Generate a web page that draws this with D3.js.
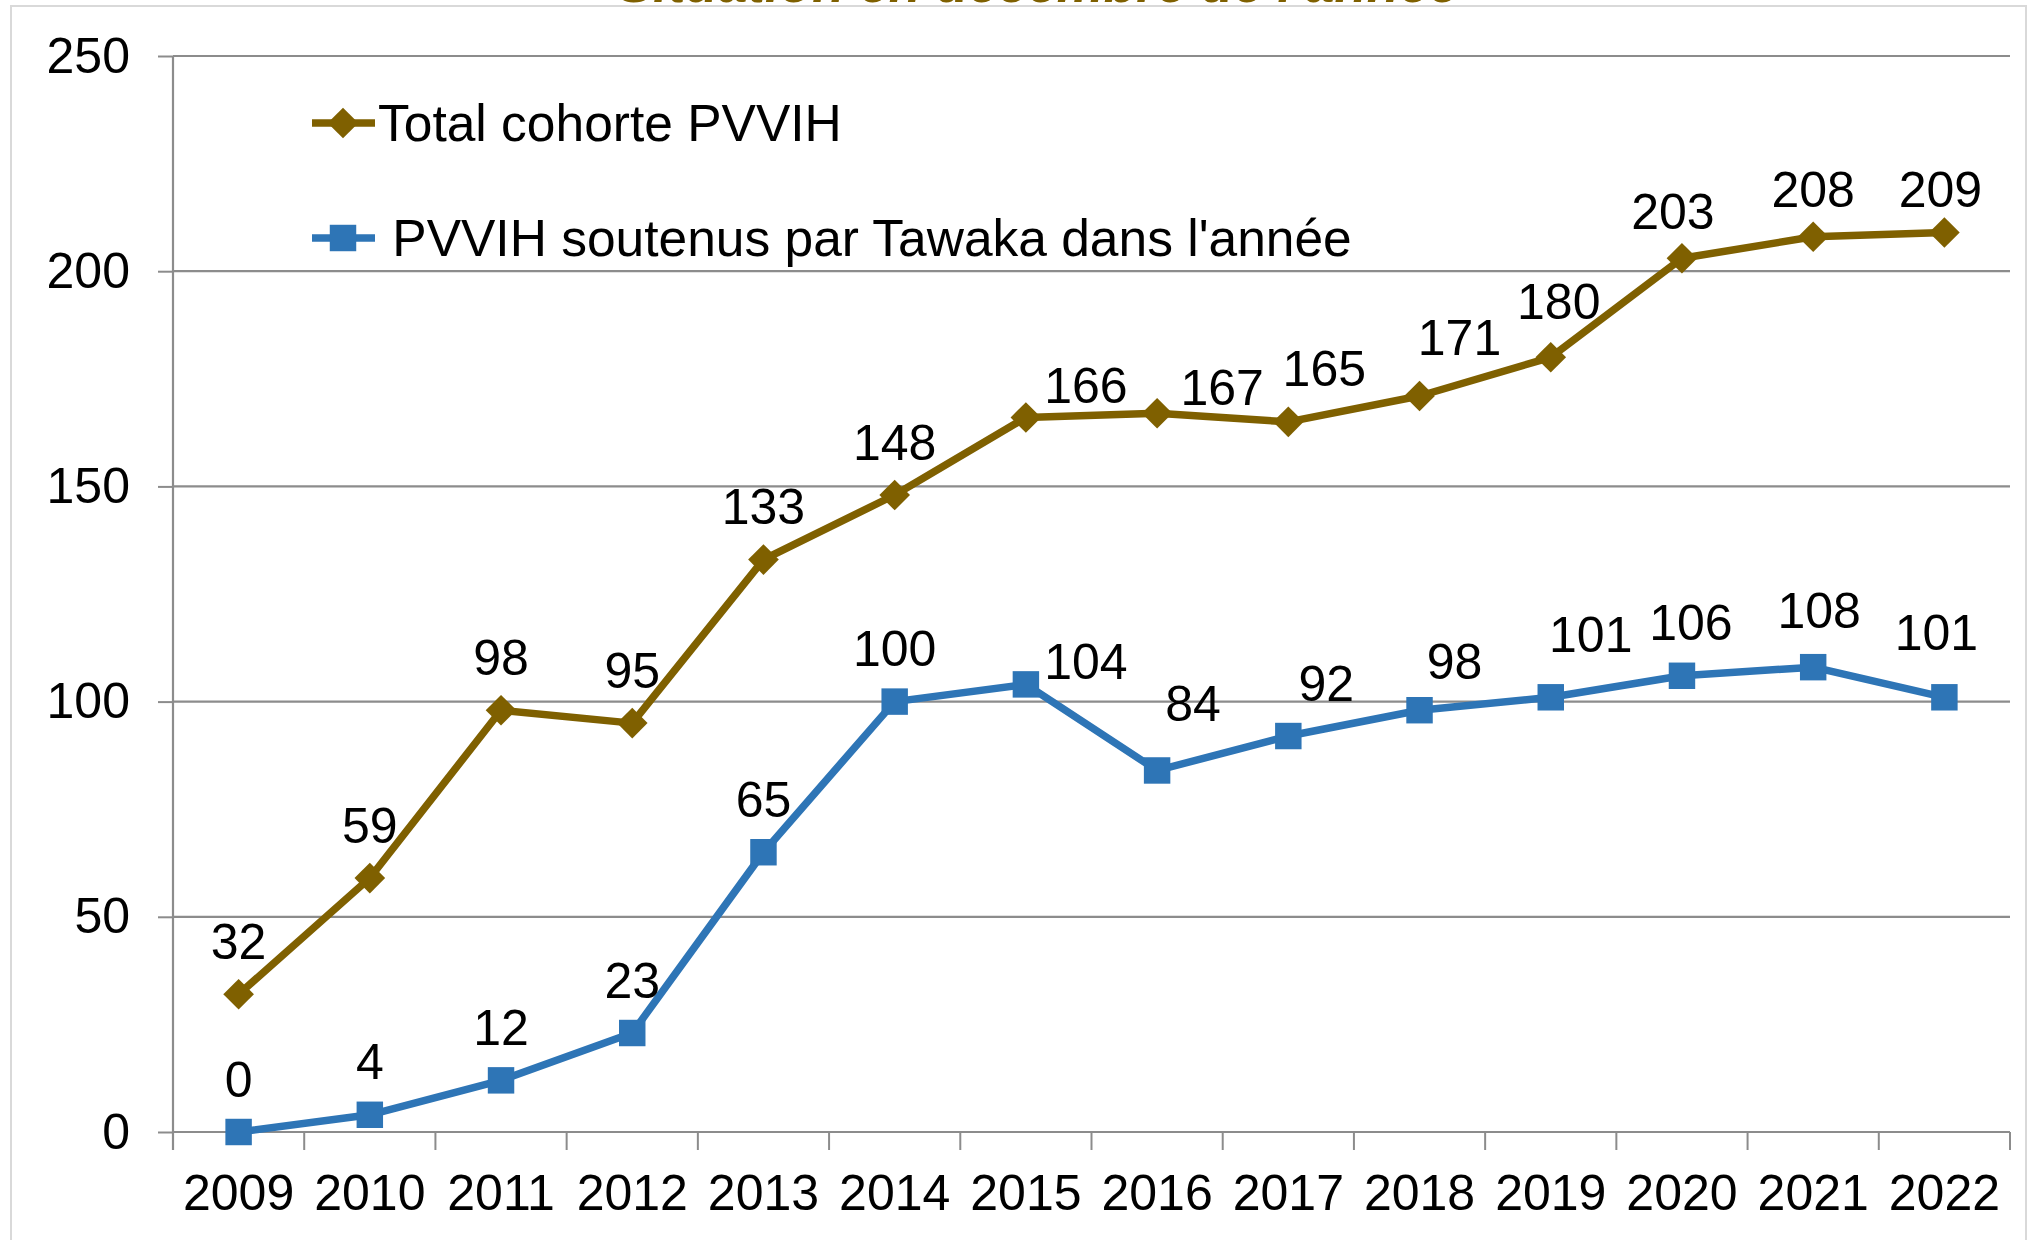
<!DOCTYPE html>
<html>
<head>
<meta charset="utf-8">
<script src="https://d3js.org/d3.v7.min.js"></script>
<style>
  body { margin: 0; background: #fff; }
  svg text { font-family: "Liberation Sans", Arial, sans-serif; }
</style>
</head>
<body>
<div class="chart"></div>
<script>
// données
var years = ["2009","2010","2011","2012","2013","2014","2015","2016","2017","2018","2019","2020","2021","2022"];
var totalCohorte = [32, 59, 98, 95, 133, 148, 166, 167, 165, 171, 180, 203, 208, 209];
var soutenusTawaka = [0, 4, 12, 23, 65, 100, 104, 84, 92, 98, 101, 106, 108, 101];
var yTicks = [0, 50, 100, 150, 200, 250];
var seriesNames = ["Total cohorte PVVIH", " PVVIH soutenus par Tawaka dans l'année"];
var titre = "Situation en décembre de l'année";

// petits décalages des étiquettes (déplacées à la main dans l'original)
var nudgeTotal = [[0,0],[0,0],[0,0],[0,0],[0,0],[0,0],[60,21],[65,27],[36,0],[40,-6],[8,-3],[-9,6],[0,6],[-4,10]];
var nudgeSoutenus = [[0,0],[0,0],[0,0],[0,0],[0,0],[0,0],[60,30],[36,-14],[38,0],[35,4],[40,-10],[9,0],[6,-4],[-8,-12]];

var w = 2036, h = 1240;
var mLeft = 173, mRight = 2010, mTop = 56, mBottom = 1132;
var brown = "#7f6000", blue = "#2e75b6", grid = "#8c8c8c";

var svg = d3.select("div.chart").append("svg")
    .attr("width", w).attr("height", h);

svg.append("rect").attr("width", w).attr("height", h).attr("fill", "#fff");
// cadre
svg.append("rect")
    .attr("x", 11).attr("y", 6).attr("width", 2015).attr("height", 1260)
    .attr("fill", "none").attr("stroke", "#d9d9d9").attr("stroke-width", 2);

// titre (coupé en haut)
svg.append("text")
    .attr("x", 1038).attr("y", 2)
    .attr("text-anchor", "middle")
    .attr("font-size", 53).attr("font-weight", "bold").attr("font-style", "italic")
    .attr("fill", brown)
    .text(titre);

var xScale = d3.scaleBand().domain(years).range([mLeft, mRight]);
var yScale = d3.scaleLinear().domain([0, 250]).range([mBottom, mTop]);

// grille + axe Y
var yAxis = d3.axisLeft(yScale).tickValues(yTicks).tickSize(15).tickPadding(28);
var gy = svg.append("g").attr("transform", "translate(" + mLeft + ",0)").call(yAxis);
gy.select(".domain").remove();
gy.selectAll(".tick line").attr("stroke", grid).attr("stroke-width", 2);
gy.selectAll(".tick text").attr("font-size", 50).attr("fill", "#000")
    .attr("font-family", "Liberation Sans, Arial, sans-serif");

svg.append("g").selectAll("line").data(yTicks).join("line")
    .attr("x1", mLeft).attr("x2", mRight)
    .attr("y1", function(d){ return yScale(d); })
    .attr("y2", function(d){ return yScale(d); })
    .attr("stroke", grid).attr("stroke-width", 2.2);

svg.append("line")
    .attr("x1", mLeft).attr("x2", mLeft).attr("y1", mTop).attr("y2", mBottom + 18)
    .attr("stroke", grid).attr("stroke-width", 2.2);

// axe X
var xAxis = d3.axisBottom(xScale).tickSize(0).tickPadding(42);
var gx = svg.append("g").attr("transform", "translate(0," + mBottom + ")").call(xAxis);
gx.select(".domain").remove();
gx.selectAll(".tick text").attr("font-size", 50).attr("fill", "#000")
    .attr("font-family", "Liberation Sans, Arial, sans-serif");

var bounds = years.map(function(y){ return xScale(y); }).concat([mRight]);
svg.append("g").selectAll("line").data(bounds).join("line")
    .attr("x1", function(d){ return d; }).attr("x2", function(d){ return d; })
    .attr("y1", mBottom).attr("y2", mBottom + 18)
    .attr("stroke", grid).attr("stroke-width", 2);

var cx = function(d, i){ return xScale(years[i]) + xScale.bandwidth() / 2; };

var line = d3.line()
    .x(function(d, i){ return cx(d, i); })
    .y(function(d){ return yScale(d); });

function drawSeries(values, color, symbol, size, nudge) {
    svg.append("path")
        .attr("d", line(values))
        .attr("fill", "none").attr("stroke", color).attr("stroke-width", 7.5)
        .attr("stroke-linejoin", "round");
    svg.append("g").selectAll("path").data(values).join("path")
        .attr("d", d3.symbol().type(d3.symbolSquare).size(size)())
        .attr("fill", color)
        .attr("transform", function(d, i){
            return "translate(" + cx(d, i) + "," + yScale(d) + ")" + (symbol === "diamond" ? " rotate(45)" : "");
        });
    svg.append("g").selectAll("text").data(values).join("text")
        .attr("x", function(d, i){ return cx(d, i) + nudge[i][0]; })
        .attr("y", function(d, i){ return yScale(d) - 53 + nudge[i][1]; })
        .attr("dy", "0.35em")
        .attr("text-anchor", "middle")
        .attr("font-size", 50).attr("fill", "#000")
        .text(function(d){ return d; });
}

drawSeries(totalCohorte, brown, "diamond", 470, nudgeTotal);
drawSeries(soutenusTawaka, blue, "square", 700, nudgeSoutenus);

// légende
var legend = [
    {name: seriesNames[0], color: brown, symbol: "diamond", size: 470, y: 123, tx: 378},
    {name: seriesNames[1], color: blue, symbol: "square", size: 700, y: 238, tx: 378}
];
legend.forEach(function(l){
    svg.append("line").attr("x1", 312).attr("x2", 375).attr("y1", l.y).attr("y2", l.y)
        .attr("stroke", l.color).attr("stroke-width", 7.5);
    svg.append("path")
        .attr("d", d3.symbol().type(d3.symbolSquare).size(l.size)())
        .attr("fill", l.color)
        .attr("transform", "translate(343," + l.y + ")" + (l.symbol === "diamond" ? " rotate(45)" : ""));
    svg.append("text").attr("x", l.tx).attr("y", l.y).attr("dy", "0.35em")
        .attr("font-size", 51.5).attr("fill", "#000")
        .style("white-space", "pre")
        .text(l.name);
});
</script>
</body>
</html>
